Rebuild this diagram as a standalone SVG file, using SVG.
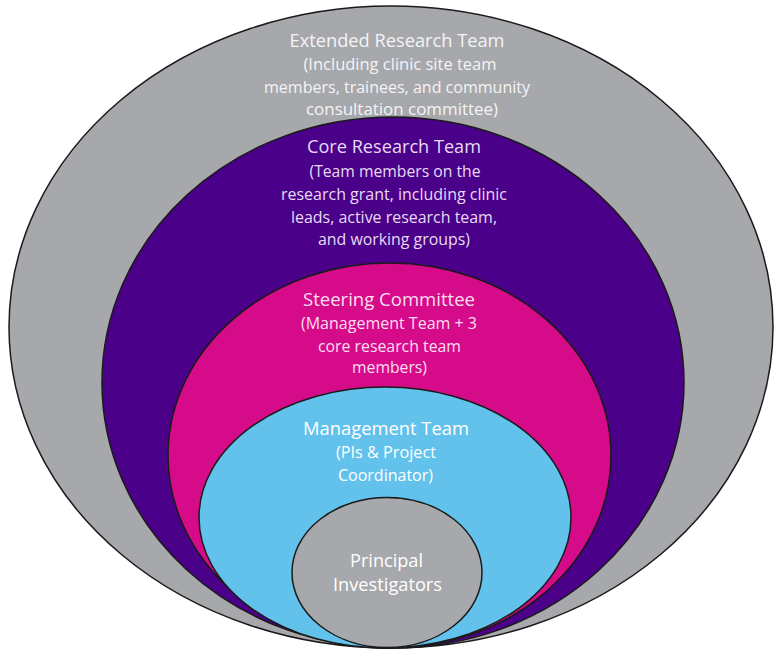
<svg xmlns="http://www.w3.org/2000/svg" width="774" height="650" viewBox="0 0 774 650">
  <style>
    .ring { stroke: #1a1a1a; stroke-width: 1.5; }
    text { font-family: "Open Sans", "Noto Sans", sans-serif; text-anchor: middle; }
    .title { font-size: 18px; }
    .sub { font-size: 16px; }
    .t-ext { fill: #f4f4f6; }
    .t-core { fill: #e6dbf4; }
    .t-steer { fill: #fbdff0; }
    .t-mgmt { fill: #ffffff; }
    .t-pi { fill: #ffffff; }
  </style>
  <rect width="774" height="650" fill="#ffffff"/>

  <!-- Extended Research Team (outermost ring) -->
  <g id="extended-research-team">
    <ellipse class="ring" cx="391" cy="327" rx="382" ry="321" fill="#a7a8ab"/>
    <text class="title t-ext" x="397" y="47" textLength="215" lengthAdjust="spacingAndGlyphs">Extended Research Team</text>
    <text class="sub t-ext" x="400" y="70" textLength="193" lengthAdjust="spacingAndGlyphs">(Including clinic site team</text>
    <text class="sub t-ext" x="397" y="93" textLength="266" lengthAdjust="spacingAndGlyphs">members, trainees, and community</text>
    <text class="sub t-ext" x="402" y="115" textLength="192" lengthAdjust="spacingAndGlyphs">consultation committee)</text>
  </g>

  <!-- Core Research Team -->
  <g id="core-research-team">
    <ellipse class="ring" cx="393" cy="382.5" rx="291" ry="265.5" fill="#4b0089"/>
    <text class="title t-core" x="394" y="153" textLength="174" lengthAdjust="spacingAndGlyphs">Core Research Team</text>
    <text class="sub t-core" x="395" y="177" textLength="171" lengthAdjust="spacingAndGlyphs">(Team members on the</text>
    <text class="sub t-core" x="394" y="200" textLength="226" lengthAdjust="spacingAndGlyphs">research grant, including clinic</text>
    <text class="sub t-core" x="394" y="223" textLength="206" lengthAdjust="spacingAndGlyphs">leads, active research team,</text>
    <text class="sub t-core" x="394" y="245" textLength="152" lengthAdjust="spacingAndGlyphs">and working groups)</text>
  </g>

  <!-- Steering Committee -->
  <g id="steering-committee">
    <ellipse class="ring" cx="389.5" cy="455.5" rx="221.5" ry="192.5" fill="#d60b8a"/>
    <text class="title t-steer" x="389" y="306" textLength="172" lengthAdjust="spacingAndGlyphs">Steering Committee</text>
    <text class="sub t-steer" x="389" y="329" textLength="176" lengthAdjust="spacingAndGlyphs">(Management Team + 3</text>
    <text class="sub t-steer" x="389.5" y="352" textLength="143" lengthAdjust="spacingAndGlyphs">core research team</text>
    <text class="sub t-steer" x="389.5" y="373" textLength="75" lengthAdjust="spacingAndGlyphs">members)</text>
  </g>

  <!-- Management Team -->
  <g id="management-team">
    <ellipse class="ring" cx="385" cy="517.5" rx="186" ry="130.5" fill="#62c2ec"/>
    <text class="title t-mgmt" x="386" y="435" textLength="166" lengthAdjust="spacingAndGlyphs">Management Team</text>
    <text class="sub t-mgmt" x="386" y="458" textLength="100" lengthAdjust="spacingAndGlyphs">(PIs &amp; Project</text>
    <text class="sub t-mgmt" x="385.5" y="481" textLength="95" lengthAdjust="spacingAndGlyphs">Coordinator)</text>
  </g>

  <!-- Principal Investigators (innermost) -->
  <g id="principal-investigators">
    <ellipse class="ring" cx="387" cy="572.5" rx="95" ry="75" fill="#a7a8ab"/>
    <text class="title t-pi" x="386.5" y="567" textLength="73" lengthAdjust="spacingAndGlyphs">Principal</text>
    <text class="title t-pi" x="387.5" y="591" textLength="109" lengthAdjust="spacingAndGlyphs">Investigators</text>
  </g>
</svg>
